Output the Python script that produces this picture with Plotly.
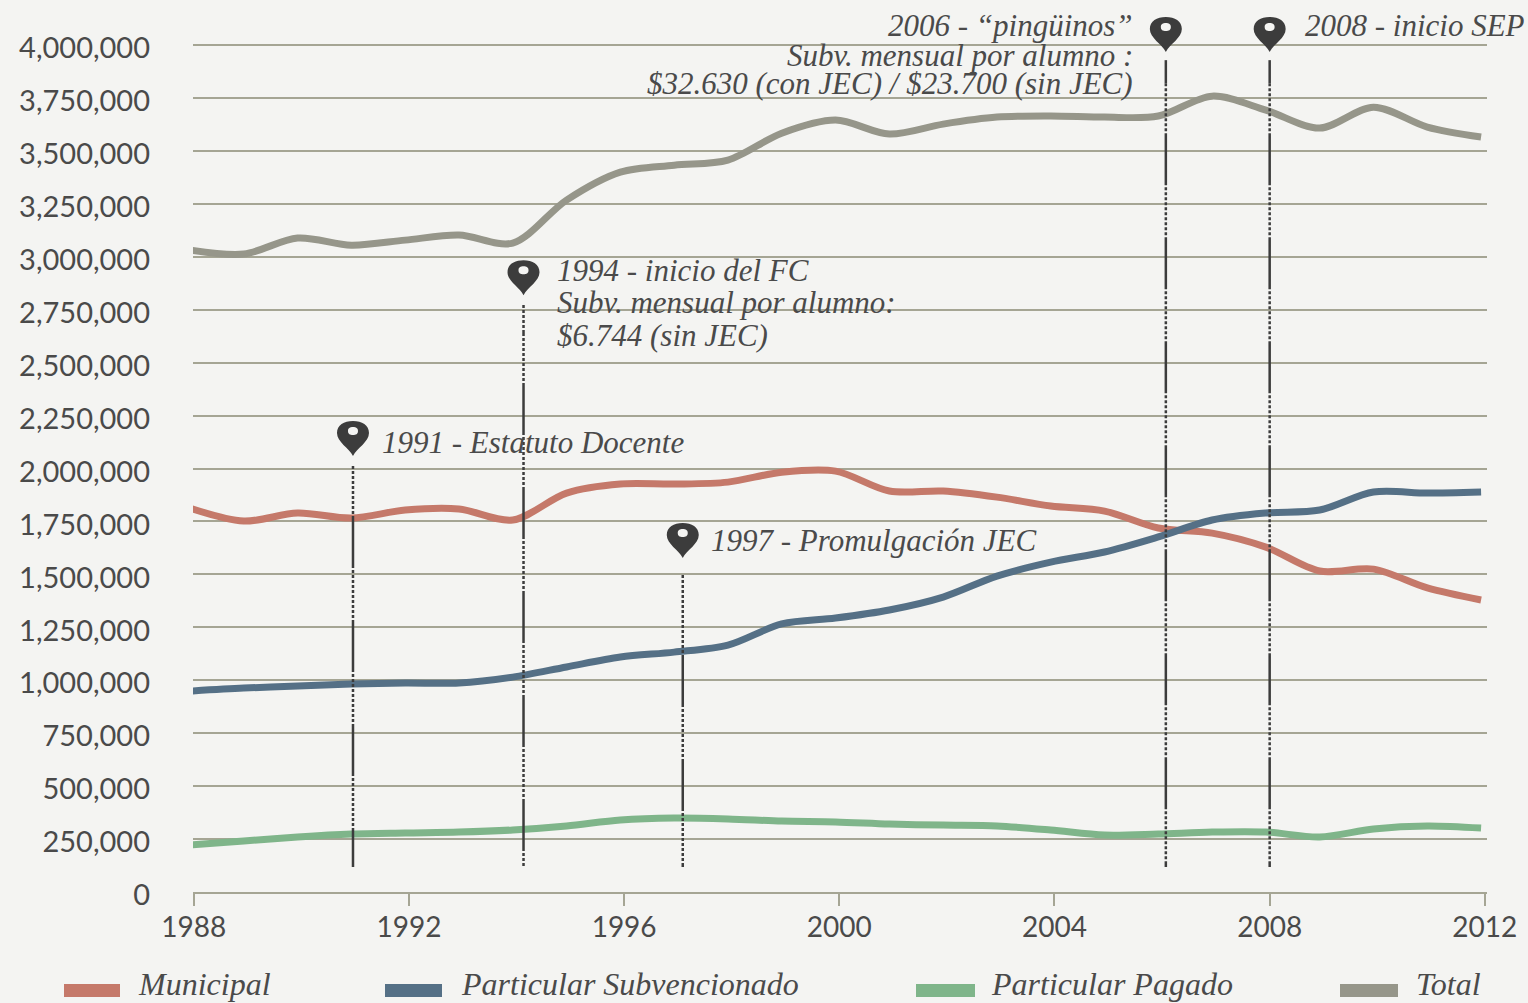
import plotly.graph_objects as go

years = list(range(1988, 2013))
municipal = [1813000,1752000,1790000,1766000,1804000,1809000,1757000,1884000,1927000,1927000,1936000,1983000,1988000,1894000,1894000,1865000,1823000,1799000,1719000,1695000,1629000,1516000,1525000,1436000,1379000]
subvencionado = [949000,963000,973000,982000,987000,987000,1015000,1063000,1110000,1133000,1166000,1266000,1294000,1332000,1393000,1492000,1558000,1606000,1677000,1757000,1790000,1804000,1889000,1884000,1889000]
pagado = [222000,241000,260000,274000,279000,283000,293000,312000,340000,349000,345000,335000,331000,321000,316000,312000,293000,269000,274000,283000,283000,260000,298000,312000,302000]
total = [3032000,3013000,3089000,3055000,3079000,3103000,3065000,3268000,3400000,3433000,3457000,3584000,3646000,3580000,3627000,3660000,3665000,3660000,3665000,3759000,3693000,3608000,3707000,3613000,3566000]

series_names = ["Municipal", "Particular Subvencionado", "Particular Pagado", "Total"]
series_colors = ["#c5796a", "#557086", "#7fb58a", "#96968a"]

tick_years = [1988, 1992, 1996, 2000, 2004, 2008, 2012]
y_ticks = list(range(0, 4000001, 250000))
event_x = [1991.03, 1994.2, 1997.16, 2006.14, 2008.07]
event_tip = [2059000, 2819000, 1577000, 3967000, 3967000]
event_line_top = [2012000, 2772000, 1497000, 3929000, 3929000]
event_pattern_top = [2012000, 2640000, 1355000, 3820000, 3820000]
event_lead = ["dot", "dot", "dot", "solid", "solid"]

BG = "#f4f4f2"; GRID = "#a5a594"; TXT = "#4a4a4a"; DARK = "#3c3c3c"
Y_TOP = 4010000
W, H = 1528, 1003
L, R, T, B = 193, 41, 43, 111
PW, PH = W - L - R, H - T - B
px = lambda v: (v - L) / PW
py = lambda v: (H - B - v) / PH

fig = go.Figure()
for name, vals, col in zip(series_names, [municipal, subvencionado, pagado, total], series_colors):
    fig.add_trace(go.Scatter(x=years, y=vals, mode="lines", name=name,
                             line=dict(color=col, width=7, shape="spline", smoothing=0.9),
                             cliponaxis=False))

PIN = ("M 0 0 C -4 8 -16 14 -16 23 C -16 31 -9 35 0 35 C 9 35 16 31 16 23 C 16 14 4 8 0 0 Z "
       "M -5 25 C -5 28 -3 29 0 29 C 3 29 5 28 5 25 C 5 22 3 21 0 21 C -3 21 -5 22 -5 25 Z")
DOTTED = "3px,2px"
PATTERN = ",".join(["3px,2px"] * 10) + ",52px,2px"
for x, tip, top, ptop, lead in zip(event_x, event_tip, event_line_top, event_pattern_top, event_lead):
    if top != ptop:
        fig.add_shape(type="line", x0=x, x1=x, y0=top, y1=ptop, layer="above",
                      line=dict(color=DARK, width=2.5, dash=DOTTED if lead == "dot" else "solid"))
    fig.add_shape(type="line", x0=x, x1=x, y0=ptop, y1=118000, layer="above",
                  line=dict(color=DARK, width=2.5, dash=PATTERN))
    fig.add_shape(type="path", path=PIN, xsizemode="pixel", ysizemode="pixel", fillrule="evenodd",
                  xanchor=x, yref="paper", yanchor=tip / Y_TOP, fillcolor=DARK, line=dict(width=0), layer="above")

FONT = dict(family="Liberation Serif", size=31, color=TXT, style="italic")
notes = [
    (1991.03, 2125000, "1991 - Estatuto Docente", "left", 28),
    (1994.2, 2937000, "1994 - inicio del FC", "left", 32),
    (1994.2, 2786000, "Subv. mensual por alumno:", "left", 32),
    (1994.2, 2630000, "$6.744 (sin JEC)", "left", 32),
    (1997.16, 1662000, "1997 - Promulgación JEC", "left", 27),
    (2008.07, 4094000, "2008 - inicio SEP", "left", 34),
    (2006.14, 4094000, "2006 - “pingüinos”", "right", -32),
    (2006.14, 3953000, "Subv. mensual por alumno :", "right", -32),
    (2006.14, 3820000, "$32.630 (con JEC) / $23.700 (sin JEC)", "right", -32),
]
for x, y, t, al, dx in notes:
    fig.add_annotation(x=x, y=y / Y_TOP, yref="paper", text=t, showarrow=False, xanchor=al, yanchor="middle",
                       align=al, xshift=dx, font=FONT, borderpad=0)

# legend row
swatches = [(64, 120), (385, 442), (916, 975), (1340, 1398)]
label_left = [137, 460, 990, 1415]
for (a, b), lx, name, col in zip(swatches, label_left, series_names, series_colors):
    fig.add_shape(type="rect", xref="paper", yref="paper", x0=px(a), x1=px(b), y0=py(984), y1=py(997),
                  fillcolor=col, line=dict(width=0), layer="above")
    fig.add_annotation(xref="paper", yref="paper", x=px(lx), y=py(984), text=name, showarrow=False,
                       xanchor="left", yanchor="middle", borderpad=0,
                       font=dict(family="Liberation Serif", size=32, color=TXT, style="italic"))

fig.update_layout(
    width=W, height=H, paper_bgcolor=BG, plot_bgcolor=BG,
    margin=dict(l=L, r=R, t=T, b=B, autoexpand=False),
    font=dict(family="Lato", color=TXT),
    showlegend=False,
    xaxis=dict(range=[1988.056, 2012.11], tickvals=[y + 0.07 for y in tick_years], ticktext=[str(y) for y in tick_years],
               showgrid=False, zeroline=False, showline=True, linecolor=GRID, linewidth=2,
               ticks="outside", ticklen=12, tickcolor=GRID, tickwidth=2, ticklabelstandoff=-3,
               tickfont=dict(family="Lato", size=28, color=TXT)),
    yaxis=dict(range=[0, Y_TOP], tickvals=y_ticks, ticktext=[f"{v:,}" for v in y_ticks],
               showgrid=True, gridcolor=GRID, gridwidth=1.5, zeroline=False, showline=False,
               ticks="", ticklabelstandoff=42, ticklabelshift=3, tickfont=dict(family="Lato", size=29, color=TXT)),
)
fig.write_html("out.html", config={"displayModeBar": False},
               post_script="document.body.style.margin='0';document.body.style.background='#f4f4f2';")
